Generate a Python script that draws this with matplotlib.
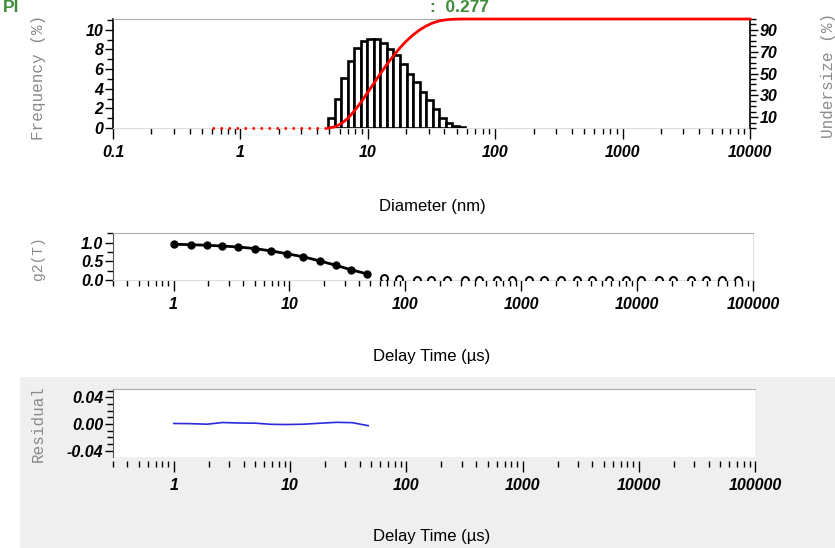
import matplotlib.pyplot as plt
from matplotlib.patches import Rectangle
from matplotlib.ticker import LogLocator, MultipleLocator, FixedLocator, NullFormatter

plt.rcParams['axes.unicode_minus'] = False

# Distribuição de tamanho (bins em nm)
bin_edges = [4.9, 5.51, 6.2, 6.98, 7.85, 8.83, 9.93, 11.18, 12.57, 14.14, 15.91,
             17.9, 20.14, 22.66, 25.49, 28.67, 32.26, 36.29, 40.83, 45.93, 51.67, 58.13]
frequency = [1.05, 3.0, 5.1, 6.8, 8.1, 8.85, 9.1, 9.05, 8.65, 8.05, 7.4,
             6.5, 5.55, 4.65, 3.7, 2.85, 1.9, 1.05, 0.5, 0.2, 0.07]
undersize = [0, 1.03, 3.97, 8.96, 15.62, 23.55, 32.22, 41.13, 49.99, 58.46, 66.35,
             73.59, 79.96, 85.39, 89.95, 93.57, 96.36, 98.22, 99.25, 99.74, 99.93, 100]

# Função de correlação
delay_fit = [1.0, 1.41, 1.94, 2.61, 3.63, 5.05, 6.89, 9.46, 13.2, 18.3, 25.1, 34.3, 47.1]
g2_fit = [0.957, 0.946, 0.93, 0.91, 0.885, 0.84, 0.78, 0.705, 0.62, 0.51, 0.394, 0.27, 0.16]
residual = [0.0008, 0.0005, -0.0003, 0.0022, 0.0015, 0.0012, -0.0005, -0.0008,
            -0.0003, 0.0012, 0.0025, 0.002, -0.0025]
delay_rest = [65, 87.5, 125, 168, 231, 324, 434, 620, 834, 1167, 1570, 2200,
              3010, 4055, 5690, 7960, 10700, 15300, 20600, 28900, 39600, 53500, 74800]
g2_rest = [0.05, 0.03, 0.01, 0.0, 0.01, 0.0, 0.01, 0.0, 0.01, 0.0, 0.0, 0.01,
           0.0, 0.01, 0.0, 0.0, 0.01, 0.0, 0.01, 0.0, 0.01, 0.0, 0.01]

diam_ticks = [0.1, 1, 10, 100, 1000, 10000]
delay_ticks = [1, 10, 100, 1000, 10000, 100000]

green = '#3f8c3a'
W, H = 835, 548


def estilo_ticks(ax, labelsize=11.5):
    for lab in ax.get_xticklabels() + ax.get_yticklabels():
        lab.set_fontfamily('Liberation Sans')
        lab.set_fontweight('bold')
        lab.set_fontstyle('italic')
        lab.set_fontsize(labelsize)


def eixo_x_log(ax, ticks):
    ax.set_xscale('log')
    ax.xaxis.set_major_locator(FixedLocator(ticks))
    ax.xaxis.set_minor_locator(LogLocator(base=10, subs=range(2, 10), numticks=20))
    ax.xaxis.set_minor_formatter(NullFormatter())
    ax.set_xticklabels([f'{t:g}' for t in ticks])
    ax.tick_params(axis='x', which='major', length=8, width=1, pad=4)
    ax.tick_params(axis='x', which='minor', length=4, width=1)


def texto(x, y, s, **kw):
    # posição em pixels a partir do canto superior esquerdo
    fig.text(x / W, 1 - y / H, s, ha='center', va='center', **kw)


def rotulo_mono(x, y, s, size=11.5):
    texto(x, y, s, rotation=90, family='Liberation Mono', color='#8a8a8a', fontsize=size)


fig = plt.figure(figsize=(8.35, 5.48), dpi=100)

# fundo cinza do painel de resíduos
fig.patches.append(Rectangle((0.024, 0), 0.976, 0.312, transform=fig.transFigure,
                             facecolor='#efefef', edgecolor='none', zorder=-1))

# ---------------- painel 1: distribuição ----------------
ax1 = fig.add_axes([0.1353, 0.7664, 0.7629, 0.1989])
lefts = bin_edges[:-1]
widths = [bin_edges[i + 1] - bin_edges[i] for i in range(len(frequency))]
ax1.bar(lefts, frequency, width=widths, align='edge', color='white',
        edgecolor='black', linewidth=1.9, zorder=3)
eixo_x_log(ax1, diam_ticks)
ax1.set_xlim(0.1, 10000)
ax1.set_ylim(0, 11.1)
ax1.yaxis.set_major_locator(MultipleLocator(2))
ax1.yaxis.set_minor_locator(MultipleLocator(1))
ax1.tick_params(axis='y', which='major', length=6, width=1, pad=1)
ax1.tick_params(axis='y', which='minor', length=4, width=1)
ax1.spines['top'].set_color('#aaaaaa')
ax1.spines['bottom'].set_color('#dddddd')
ax1.spines['right'].set_visible(False)
ax1.spines['left'].set_linewidth(1.2)
estilo_ticks(ax1)

ax1b = ax1.twinx()
ax1b.plot(bin_edges + [10000], undersize + [100], color='red', lw=2, clip_on=False, zorder=4)
# linha pontilhada antes da distribuição
ax1b.plot([0.6, bin_edges[0]], [0, 0], color='red', lw=1.8, ls=(0, (1, 2.2)),
          clip_on=False, zorder=4)
ax1b.set_ylim(0, 100)
ax1b.yaxis.set_major_locator(FixedLocator([10, 30, 50, 70, 90]))
ax1b.yaxis.set_minor_locator(MultipleLocator(5))
ax1b.tick_params(axis='y', which='major', length=6, width=1, pad=1)
ax1b.tick_params(axis='y', which='minor', length=4, width=1)
ax1b.spines['top'].set_visible(False)
ax1b.spines['bottom'].set_visible(False)
ax1b.spines['left'].set_visible(False)
ax1b.spines['right'].set_linewidth(1.2)
estilo_ticks(ax1b, 11.5)

# ---------------- painel 2: g2 ----------------
ax2 = fig.add_axes([0.1353, 0.4891, 0.7665, 0.0858])
ax2.plot(delay_fit, g2_fit, color='black', lw=2, marker='o', ms=5, zorder=3)
ax2.plot(delay_rest, g2_rest, ls='none', marker='o', ms=5, mfc='white',
         mec='black', mew=1.4, zorder=3)
eixo_x_log(ax2, delay_ticks)
ax2.set_xlim(0.3, 100000)
ax2.set_ylim(0, 1.26)
ax2.yaxis.set_major_locator(MultipleLocator(0.5))
ax2.yaxis.set_minor_locator(MultipleLocator(0.25))
ax2.yaxis.set_major_formatter(plt.FormatStrFormatter('%.1f'))
ax2.tick_params(axis='y', which='major', length=6, width=1, pad=1)
ax2.tick_params(axis='y', which='minor', length=4, width=1)
ax2.spines['top'].set_color('#aaaaaa')
ax2.spines['right'].set_color('#dddddd')
ax2.spines['bottom'].set_color('#dddddd')
ax2.spines['left'].set_color('#555555')
estilo_ticks(ax2)

# ---------------- painel 3: resíduo ----------------
ax3 = fig.add_axes([0.1353, 0.1661, 0.7689, 0.124])
ax3.set_facecolor('white')
ax3.plot(delay_fit, residual, color='#2b2bdc', lw=1.2)
eixo_x_log(ax3, delay_ticks)
ax3.set_xlim(0.3, 100000)
ax3.set_ylim(-0.0495, 0.0525)
ax3.yaxis.set_major_locator(FixedLocator([-0.04, 0.0, 0.04]))
ax3.yaxis.set_minor_locator(MultipleLocator(0.01))
ax3.yaxis.set_major_formatter(plt.FormatStrFormatter('%.2f'))
ax3.tick_params(axis='y', which='major', length=6, width=1, pad=1)
ax3.tick_params(axis='y', which='minor', length=4, width=1)
ax3.spines['top'].set_color('#aaaaaa')
ax3.spines['right'].set_visible(False)
ax3.spines['bottom'].set_visible(False)
ax3.spines['bottom'].set_position(('outward', 3))
ax3.spines['left'].set_color('#555555')
estilo_ticks(ax3)

# rótulos dos eixos
rotulo_mono(38, 77, 'Frequency (%)')
rotulo_mono(828, 75, 'Undersize (%)')
rotulo_mono(38, 258, 'g2(T)', size=10.5)
rotulo_mono(38, 424, 'Residual')
texto(432, 207, 'Diameter (nm)', fontsize=12, family='Liberation Sans')
texto(432, 357, 'Delay Time (µs)', fontsize=12, family='Liberation Sans')
texto(432, 536, 'Delay Time (µs)', fontsize=12, family='Liberation Sans')

# textos verdes no topo (cortados)
fig.text(0.004, 1 - 12 / H, 'PI', color=green, fontsize=12.5, fontweight='bold',
         family='Liberation Sans', va='baseline')
fig.text(0.515, 1 - 12 / H, ':  0.277', color=green, fontsize=12.5, fontweight='bold',
         family='Liberation Sans', va='baseline')

fig.savefig('out.png', dpi=100)
